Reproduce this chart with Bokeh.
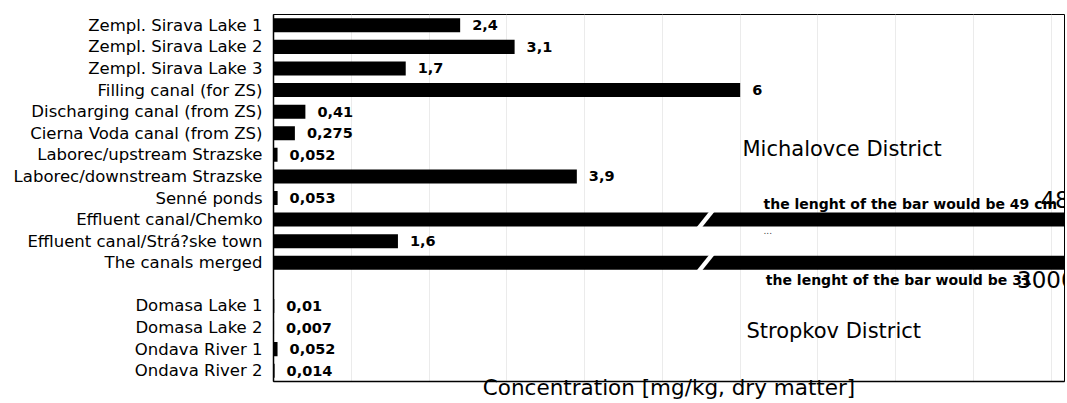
from bokeh.plotting import figure
from bokeh.models import FactorRange, Range1d, FixedTicker, Label, ColumnDataSource
from bokeh.core.properties import value
from bokeh.embed import file_html
from bokeh.resources import INLINE

# ---------------- data ----------------
categories = [
    "Zempl. Sirava Lake 1", "Zempl. Sirava Lake 2", "Zempl. Sirava Lake 3",
    "Filling canal (for ZS)", "Discharging canal (from ZS)",
    "Cierna Voda canal (from ZS)", "Laborec/upstream Strazske",
    "Laborec/downstream Strazske", "Senné ponds", "Effluent canal/Chemko",
    "Effluent canal/Strá?ske town", "The canals merged", " ",
    "Domasa Lake 1", "Domasa Lake 2", "Ondava River 1", "Ondava River 2",
]
values = [2.4, 3.1, 1.7, 6, 0.41, 0.275, 0.052, 3.9, 0.053, 480, 1.6, 3000,
          None, 0.01, 0.007, 0.052, 0.014]
value_labels = ["2,4", "3,1", "1,7", "6", "0,41", "0,275", "0,052", "3,9",
                "0,053", "", "1,6", "", "", "0,01", "0,007", "0,052", "0,014"]
broken_categories = ["Effluent canal/Chemko", "The canals merged"]
broken_labels = ["480", "3000"]
broken_notes = ["the lenght of the bar would be 49 cm",
                "the lenght of the bar would be 31"]
district_labels = ["Michalovce District", "Stropkov District"]
x_title = "Concentration [mg/kg, dry matter]"

FONT = "DejaVu Sans"

# ---------------- figure ----------------
p = figure(
    width=1067, height=403,
    y_range=FactorRange(factors=list(reversed(categories))),
    x_range=Range1d(0, 10.17),
    output_backend="svg", toolbar_location=None,
    min_border_left=273, min_border_right=3,
    min_border_top=14, min_border_bottom=22,
)
p.background_fill_color = "white"
p.border_fill_color = "white"
p.outline_line_color = "black"
p.outline_line_width = 1

# grid
p.ygrid.grid_line_color = None
p.xgrid.ticker = FixedTicker(ticks=list(range(0, 11)))
p.xgrid.grid_line_color = "#ebebeb"
p.xgrid.grid_line_width = 1

# x axis: line + title only
p.xaxis.ticker = FixedTicker(ticks=[])
p.xaxis.major_label_text_font_size = "0px"
p.xaxis.major_tick_line_color = None
p.xaxis.minor_tick_line_color = None
p.xaxis.major_tick_out = 0
p.xaxis.major_label_standoff = 0
p.xaxis.axis_line_color = "black"
p.xaxis.axis_line_width = 1.5
p.xaxis.axis_label = x_title
p.xaxis.axis_label_standoff = -7
p.xaxis.axis_label_text_font = FONT
p.xaxis.axis_label_text_font_size = "21.5px"
p.xaxis.axis_label_text_font_style = "normal"
p.xaxis.axis_label_text_color = "black"

# y axis: categories
p.yaxis.major_tick_line_color = None
p.yaxis.minor_tick_line_color = None
p.yaxis.axis_line_color = "black"
p.yaxis.axis_line_width = 1.5
p.yaxis.major_label_text_font = FONT
p.yaxis.major_label_text_font_size = "16.5px"
p.yaxis.major_label_text_color = "black"
p.yaxis.major_label_standoff = 5

# bars
bar_cats = [c for c, v in zip(categories, values) if v is not None]
bar_vals = [v for v in values if v is not None]
src = ColumnDataSource(dict(cat=bar_cats, val=bar_vals))
p.hbar(y="cat", left=0, right="val", height=0.65, source=src,
       fill_color="black", line_color=None)

# value labels
lab_cats = [c for c, v, t in zip(categories, values, value_labels) if t]
lab_vals = [v for c, v, t in zip(categories, values, value_labels) if t]
lab_txt = [t for t in value_labels if t]
lsrc = ColumnDataSource(dict(cat=lab_cats, val=lab_vals, txt=lab_txt))
p.text(x="val", y="cat", text="txt", source=lsrc, x_offset=12,
       text_align="left", text_baseline="middle",
       text_font=value(FONT), text_font_size="14.5px", text_font_style="bold",
       text_color="black")

# break marks on the broken bars
n = len(categories)
break_x = 5.52
skew = 0.10
thick = 0.07
for c in broken_categories:
    yc = n - 1 - categories.index(c) + 0.5
    y0, y1 = yc - 0.45, yc + 0.45
    xs = [break_x - skew, break_x - skew + thick, break_x + skew + thick, break_x + skew]
    ys = [y0, y0, y1, y1]
    p.patch(xs, ys, fill_color="white", line_color=None)

# broken bar values (clipped at frame edge as in reference)
row_c = [n - 1 - categories.index(c) + 0.5 for c in broken_categories]
p.text(x=[9.86, 9.56], y=[row_c[0] + 0.95, row_c[1] - 0.78], text=broken_labels,
       text_align="left", text_baseline="middle",
       text_font=value(FONT), text_font_size="23px", text_color="black")

# notes
p.add_layout(Label(x=6.30, y=row_c[0] + 0.72, text=broken_notes[0],
                   text_align="left", text_baseline="middle",
                   text_font=FONT, text_font_size="14px", text_font_style="bold",
                   text_color="black"))
p.add_layout(Label(x=6.30, y=row_c[0] - 0.33, text="...",
                   text_align="left", text_baseline="top",
                   text_font=FONT, text_font_size="9px",
                   text_color="#444444"))
p.add_layout(Label(x=6.33, y=row_c[1] - 0.82, text=broken_notes[1],
                   text_align="left", text_baseline="middle",
                   text_font=FONT, text_font_size="14px", text_font_style="bold",
                   text_color="black"))

# district labels
p.add_layout(Label(x=6.03, y=10.75, text=district_labels[0],
                   text_align="left", text_baseline="middle",
                   text_font=FONT, text_font_size="21px", text_color="black"))
p.add_layout(Label(x=6.08, y=2.36, text=district_labels[1],
                   text_align="left", text_baseline="middle",
                   text_font=FONT, text_font_size="21px", text_color="black"))

open("out.html", "w").write(file_html(p, INLINE))
